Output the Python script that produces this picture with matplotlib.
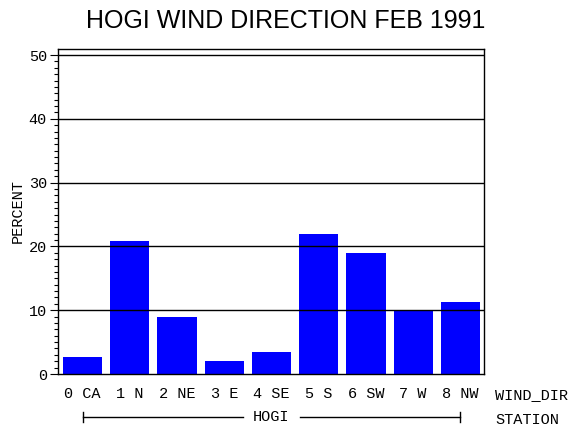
import numpy as np
import matplotlib
matplotlib.use('Agg')
import matplotlib.pyplot as plt
from matplotlib.ticker import MultipleLocator

# wind direction categories and percentages
directions = ['0 CA', '1 N', '2 NE', '3 E', '4 SE', '5 S', '6 SW', '7 W', '8 NW']
percent = [2.7, 20.8, 9.0, 2.1, 3.5, 21.9, 19.0, 10.0, 11.3]
station = 'HOGI'
title = 'HOGI WIND DIRECTION FEB 1991'

mono = 'Liberation Mono'

fig = plt.figure(figsize=(5.7, 4.3), dpi=100)
ax = fig.add_axes([58 / 570, 1 - 374 / 430, 426 / 570, 325 / 430])

x = np.arange(len(directions))
ax.bar(x, percent, width=0.83, color='#0000ff', zorder=1)

ax.set_xlim(-0.52, 8.5)
ax.set_ylim(0, 50.95)

ax.yaxis.set_major_locator(MultipleLocator(10))
ax.yaxis.set_minor_locator(MultipleLocator(1))
ax.tick_params(axis='y', which='major', length=6, width=0.8, direction='out',
               labelsize=11, pad=2)
ax.tick_params(axis='y', which='minor', length=3, width=0.8, direction='out')
for lab in ax.get_yticklabels():
    lab.set_fontfamily(mono)

ax.set_xticks(x)
ax.set_xticklabels(directions, fontfamily=mono, fontsize=11)
ax.tick_params(axis='x', length=0, pad=9)

for v in range(10, 51, 10):
    ax.axhline(v, color='black', linewidth=1.0, zorder=3)

for s in ax.spines.values():
    s.set_linewidth(1.0)
    s.set_color('black')

ax.set_ylabel('PERCENT', fontfamily=mono, fontsize=11, labelpad=3)

fig.suptitle(title, fontfamily='Liberation Sans', fontsize=18, x=286 / 570, y=1 - 20.5 / 430,
             va='center')

# category axis names
fig.text(495 / 570, 1 - 395 / 430, 'WIND_DIR', fontfamily=mono, fontsize=11, va='center')
fig.text(495 / 570, 1 - 420 / 430, 'STATION', fontfamily=mono, fontsize=11, va='center')

# station bracket under the categories
trans = ax.get_xaxis_transform()
yb = -43 / 325
ax.plot([0, 3.4], [yb, yb], color='black', linewidth=1, transform=trans, clip_on=False)
ax.plot([4.6, 8], [yb, yb], color='black', linewidth=1, transform=trans, clip_on=False)
for xe in (0, 8):
    ax.plot([xe, xe], [yb - 5 / 325, yb + 5 / 325], color='black', linewidth=1,
            transform=trans, clip_on=False)
ax.text(4.0, yb, station, fontfamily=mono, fontsize=11, ha='center', va='center',
        transform=trans)

fig.savefig('out.png', dpi=100)
